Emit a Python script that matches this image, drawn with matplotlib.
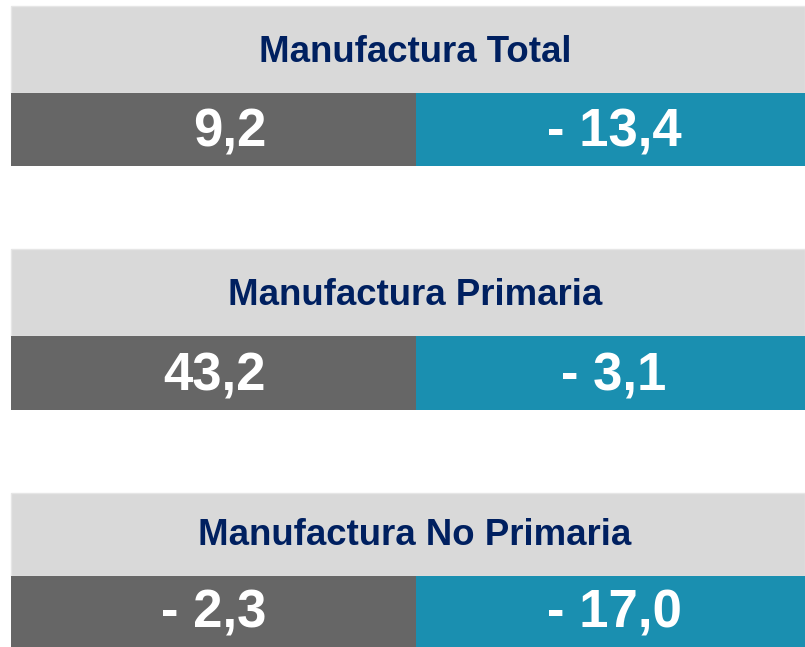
import matplotlib.pyplot as plt
from matplotlib.patches import Rectangle

# Datos
titulos = ['Manufactura Total', 'Manufactura Primaria', 'Manufactura No Primaria']
valores_izq = [9.2, 43.2, -2.3]
valores_der = [-13.4, -3.1, -17.0]

# Colores
gris_titulo = '#D9D9D9'
gris_valor = '#666666'
azul_valor = '#1A8FB0'
azul_texto = '#002060'


def fmt(v):
    s = f'{abs(v):.1f}'.replace('.', ',')
    return f'- {s}' if v < 0 else s


# Geometría de los bloques (pixeles, origen arriba a la izquierda)
tops = [6, 249, 493]
mids = [93, 336, 576]
bottoms = [166, 410, 647]
x0, xs, x1 = 11, 416, 805

plt.rcParams['font.family'] = ['Liberation Sans', 'DejaVu Sans']

fig = plt.figure(figsize=(8.05, 6.47), dpi=100)
ax = fig.add_axes([0, 0, 1, 1])
ax.set_xlim(0, 805)
ax.set_ylim(647, 0)
ax.axis('off')

for i, titulo in enumerate(titulos):
    t, m, b = tops[i], mids[i], bottoms[i]
    ax.add_patch(Rectangle((x0, t), x1 - x0, m - t, facecolor=gris_titulo,
                           edgecolor='#E6E6E6', linewidth=1))
    ax.add_patch(Rectangle((x0, m), xs - x0, b - m, facecolor=gris_valor, linewidth=0))
    ax.add_patch(Rectangle((xs, m), x1 - xs, b - m, facecolor=azul_valor, linewidth=0))

    ax.text(415, m - 31, titulo, ha='center', va='baseline', fontsize=26.4,
            fontweight='bold', color=azul_texto)
    ax.text(266, b - 19.5, fmt(valores_izq[i]), ha='right', va='baseline',
            fontsize=38, fontweight='bold', color='white')
    ax.text(614, b - 19.5, fmt(valores_der[i]), ha='center', va='baseline',
            fontsize=38, fontweight='bold', color='white')

plt.savefig('out.png', dpi=100)
